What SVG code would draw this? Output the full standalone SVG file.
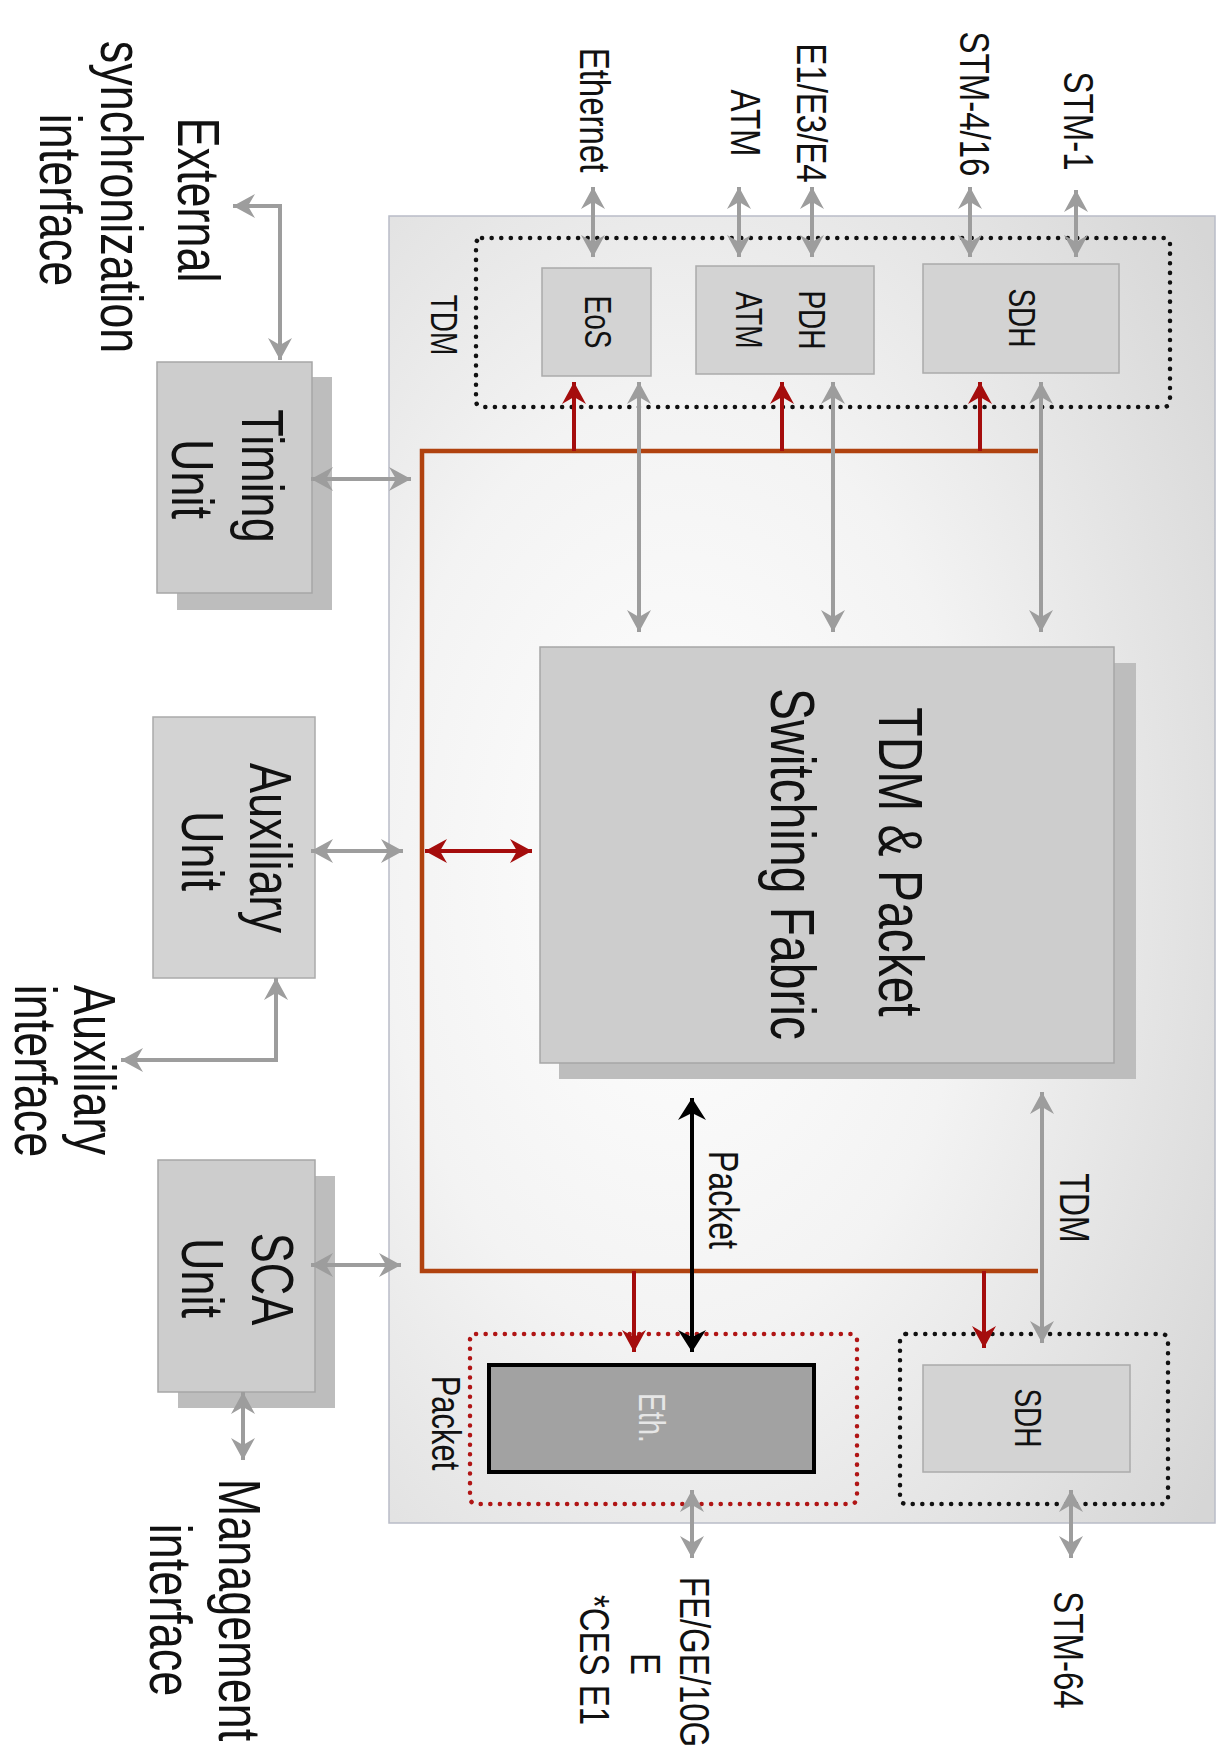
<svg xmlns="http://www.w3.org/2000/svg" width="1228" height="1751" viewBox="0 0 1228 1751">
<defs>
<style>
text{font-family:"Liberation Sans",Arial,Helvetica,sans-serif;fill:#111;text-anchor:middle}
.f45{font-size:45px}
.f48{font-size:48px}
.f33{font-size:33px}
.f32{font-size:32px}
.f31{font-size:31px}
.f28{font-size:28px}
.box{fill:#d3d3d3;stroke:#ababab;stroke-width:1.5}
.unit{fill:#cdcdcd;stroke:#a6a6a6;stroke-width:1.5}
.shadow{fill:#bdbdbd}
.dotk{fill:none;stroke:#111;stroke-width:4.5;stroke-dasharray:0.1 9.5;stroke-linecap:round}
.dotr{fill:none;stroke:#b01515;stroke-width:4.5;stroke-dasharray:0.1 9.5;stroke-linecap:round}
.gd{fill:none;stroke:#9d9d9d;stroke-width:4;marker-start:url(#ag);marker-end:url(#ag)}
.bus{fill:none;stroke:#b0420f;stroke-width:4.5}
.r{fill:none;stroke:#a50d0d;stroke-width:4;marker-end:url(#ar)}
.rd{fill:none;stroke:#a50d0d;stroke-width:4;marker-start:url(#ar);marker-end:url(#ar)}
.k{fill:none;stroke:#000;stroke-width:4;marker-start:url(#ak);marker-end:url(#ak)}
</style>
<marker id="ag" viewBox="-24 -14 26 28" refX="0" refY="0" markerWidth="26" markerHeight="28" markerUnits="userSpaceOnUse" orient="auto-start-reverse"><path d="M0,0 L-22,-12 L-15,0 L-22,12 Z" fill="#9d9d9d"/></marker>
<marker id="ar" viewBox="-24 -14 26 28" refX="0" refY="0" markerWidth="26" markerHeight="28" markerUnits="userSpaceOnUse" orient="auto-start-reverse"><path d="M0,0 L-22,-12 L-15,0 L-22,12 Z" fill="#a50d0d"/></marker>
<marker id="ak" viewBox="-24 -16 26 32" refX="0" refY="0" markerWidth="26" markerHeight="32" markerUnits="userSpaceOnUse" orient="auto-start-reverse"><path d="M0,0 L-22,-14 L-15,0 L-22,14 Z" fill="#000"/></marker>
<radialGradient id="bg" cx="0.35" cy="0.5" r="0.8">
<stop offset="0" stop-color="#ffffff"/>
<stop offset="0.45" stop-color="#f3f3f3"/>
<stop offset="1" stop-color="#d6d6d6"/>
</radialGradient>
</defs>

<rect x="0" y="0" width="1228" height="1751" fill="#ffffff"/>

<g id="chassis">
<rect x="389" y="216" width="826" height="1307" fill="url(#bg)" stroke="#b9bcc7" stroke-width="1.5"/>
</g>

<g id="tdm-group">
<rect class="dotk" x="476" y="238" width="694" height="169" rx="6"/>
<text class="f28" transform="translate(431,325) rotate(90) scale(1,1.3)">TDM</text>
</g>
<g id="packet-group">
<rect class="dotr" x="470" y="1334" width="387" height="170" rx="6"/>
<text class="f31" transform="translate(432,1423) rotate(90) scale(1,1.3)">Packet</text>
</g>
<g id="sdh2-group">
<rect class="dotk" x="900" y="1334" width="268" height="170" rx="6"/>
</g>

<g id="eos">
<rect class="box" x="542" y="268" width="109" height="108"/>
<text class="f28" transform="translate(585,322) rotate(90) scale(1,1.3)">EoS</text>
</g>
<g id="pdh-atm">
<rect class="box" x="696" y="266" width="178" height="108"/>
<text class="f28" transform="translate(799,320) rotate(90) scale(1,1.3)">PDH</text>
<text class="f28" transform="translate(736,320) rotate(90) scale(1,1.3)">ATM</text>
</g>
<g id="sdh-top">
<rect class="box" x="923" y="264" width="196" height="109"/>
<text class="f28" transform="translate(1009,318) rotate(90) scale(1,1.3)">SDH</text>
</g>
<g id="sdh-bottom">
<rect class="box" x="923" y="1365" width="207" height="107"/>
<text class="f28" transform="translate(1015,1418) rotate(90) scale(1,1.3)">SDH</text>
</g>
<g id="eth">
<rect x="489" y="1365" width="325" height="107" fill="#a2a2a2" stroke="#000" stroke-width="4"/>
<text class="f28" style="fill:#e6e6e6" transform="translate(639,1418) rotate(90) scale(1,1.3)">Eth.</text>
</g>

<g id="fabric">
<rect class="shadow" x="559" y="663" width="577" height="416"/>
<rect class="unit" x="540" y="647" width="574" height="416"/>
<text class="f48" transform="translate(879,862) rotate(90) scale(1,1.3)">TDM &amp; Packet</text>
<text class="f48" transform="translate(771,864) rotate(90) scale(1,1.3)">Switching Fabric</text>
</g>

<g id="timing-unit">
<rect class="shadow" x="177" y="377" width="155" height="233"/>
<rect class="unit" x="157" y="362" width="155" height="231"/>
<text class="f45" transform="translate(242,476) rotate(90) scale(1,1.3)">Timing</text>
<text class="f45" transform="translate(172,479) rotate(90) scale(1,1.3)">Unit</text>
</g>
<g id="auxiliary-unit">
<rect class="box" x="153" y="717" width="162" height="261"/>
<text class="f45" transform="translate(250,848) rotate(90) scale(1,1.3)">Auxiliary</text>
<text class="f45" transform="translate(182,851) rotate(90) scale(1,1.3)">Unit</text>
</g>
<g id="sca-unit">
<rect class="shadow" x="178" y="1176" width="157" height="232"/>
<rect class="unit" x="158" y="1160" width="157" height="232"/>
<text class="f45" transform="translate(252,1279) rotate(90) scale(1,1.3)">SCA</text>
<text class="f45" transform="translate(182,1278) rotate(90) scale(1,1.3)">Unit</text>
</g>

<g id="connectors">
<path class="bus" d="M1038,451 H422 V1271 H1038"/>
<path class="r" d="M574,451 V382"/>
<path class="r" d="M782,451 V382"/>
<path class="r" d="M980,451 V382"/>
<path class="r" d="M634,1271 V1352"/>
<path class="r" d="M984,1271 V1348"/>
<path class="rd" d="M425,851 H532"/>
<path class="gd" d="M233,206 H280 V360"/>
<path class="gd" d="M593,187 V257"/>
<path class="gd" d="M739,187 V257"/>
<path class="gd" d="M812,187 V257"/>
<path class="gd" d="M970,187 V257"/>
<path class="gd" d="M1076,190 V257"/>
<path class="gd" d="M639,382 V632"/>
<path class="gd" d="M833,382 V632"/>
<path class="gd" d="M1041,382 V632"/>
<path class="gd" d="M311,479 H411"/>
<path class="gd" d="M311,851 H403"/>
<path class="gd" d="M311,1265 H401"/>
<path class="gd" d="M121,1060 H276 V978"/>
<path class="gd" d="M243,1392 V1460"/>
<path class="gd" d="M1042,1092 V1343"/>
<path class="gd" d="M692,1490 V1558"/>
<path class="gd" d="M1071,1490 V1558"/>
<path class="k" d="M692,1098 V1352"/>
</g>

<g id="labels">
<text class="f45" transform="translate(178,200) rotate(90) scale(1,1.3)">External</text>
<text class="f45" transform="translate(101,197) rotate(90) scale(1,1.3)">synchronization</text>
<text class="f45" transform="translate(40,200) rotate(90) scale(1,1.3)">interface</text>
<text class="f33" transform="translate(580,110) rotate(90) scale(1,1.3)">Ethernet</text>
<text class="f33" transform="translate(731,123) rotate(90) scale(1,1.3)">ATM</text>
<text class="f33" transform="translate(797,113) rotate(90) scale(1,1.3)">E1/E3/E4</text>
<text class="f33" transform="translate(960,104) rotate(90) scale(1,1.3)">STM-4/16</text>
<text class="f33" transform="translate(1064,121) rotate(90) scale(1,1.3)">STM-1</text>
<text class="f45" transform="translate(74,1070) rotate(90) scale(1,1.3)">Auxiliary</text>
<text class="f45" transform="translate(15,1071) rotate(90) scale(1,1.3)">interface</text>
<text class="f45" transform="translate(219,1610) rotate(90) scale(1,1.3)">Management</text>
<text class="f45" transform="translate(150,1610) rotate(90) scale(1,1.3)">interface</text>
<text class="f32" transform="translate(1060,1208) rotate(90) scale(1,1.3)">TDM</text>
<text class="f32" transform="translate(709,1200) rotate(90) scale(1,1.3)">Packet</text>
<text class="f33" transform="translate(1054,1650) rotate(90) scale(1,1.3)">STM-64</text>
<text class="f33" transform="translate(680,1662) rotate(90) scale(1,1.3)">FE/GE/10G</text>
<text class="f33" transform="translate(631,1664) rotate(90) scale(1,1.3)">E</text>
<text class="f33" transform="translate(580,1660) rotate(90) scale(1,1.3)">*CES E1</text>
</g>
</svg>
